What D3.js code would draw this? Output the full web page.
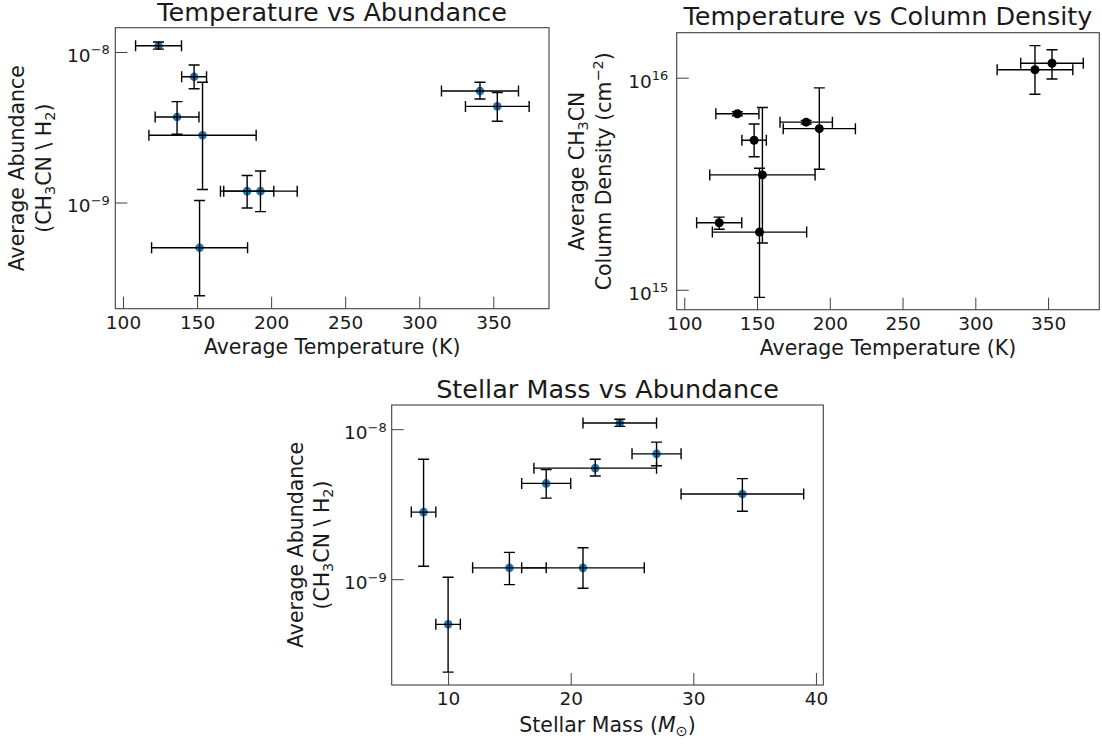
<!DOCTYPE html>
<html>
<head>
<meta charset="utf-8">
<script src="https://cdnjs.cloudflare.com/ajax/libs/d3/7.8.5/d3.min.js"></script>
<style>
  body { margin: 0; background: white; }
  svg { display: block; }
</style>
</head>
<body>
<div id="chart"></div>
<script>
// same source order in every array
const temperature    = [124, 148, 136.5, 153.7, 151.7, 183.8, 192.8, 341, 352.7];
const temperatureErr = [15.5, 8.4, 14.8, 36.2, 32.4, 18, 24.8, 26, 21.5];
const abundance          = [1.10e-8, 6.85e-9, 3.70e-9, 2.80e-9, 5.0e-10, 1.19e-9, 1.19e-9, 5.5e-9, 4.35e-9];
const abundanceErrMinus  = [0.55e-9, 1.15e-9, 0.86e-9, 1.58e-9, 2.6e-10, 0.27e-9, 0.32e-9, 0.63e-9, 0.88e-9];
const abundanceErrPlus   = [0.65e-9, 1.35e-9, 0.98e-9, 3.5e-9, 5.3e-10, 0.32e-9, 0.43e-9, 0.8e-9, 1.03e-9];
const columnDensity         = [2.07e15, 5.07e15, 6.76e15, 3.48e15, 1.87e15, 6.17e15, 5.75e15, 1.09e16, 1.17e16];
const columnDensityErrMinus = [0.14e15, 0.83e15, 0.15e15, 1.82e15, 0.95e15, 0.12e15, 2.05e15, 2.54e15, 1.84e15];
const columnDensityErrPlus  = [0.13e15, 0.98e15, 0.15e15, 3.76e15, 1.87e15, 0.12e15, 3.2e15, 3.26e15, 1.85e15];
const stellarMass    = [24, 27, 34, 8, 10, 15, 21, 22, 18];
const stellarMassErr = [3, 2, 5, 1, 1, 3, 5, 5, 2];

const tempTicks = [100, 150, 200, 250, 300, 350];
const massTicks = [10, 20, 30, 40];
const abundanceTicks = [1e-9, 1e-8];
const densityTicks = [1e15, 1e16];

const tempRangeTA = [94.8, 387.6];
const tempRangeTC = [94.8, 385.2];
const massRange = [5.4, 40.6];
const abundanceRange = [1.97e-10, 1.45e-8];
const densityRange = [8.05e14, 1.63e16];

var width = 1102, height = 744;
var font = "DejaVu Sans";
var textColor = "#1a1a1a";
var frameColor = "#404040";
var blue = "#1f77b4";
var tickLen = 12, capHalf = 5.5;

let svg = d3.select("#chart").append("svg")
    .attr("width", width).attr("height", height)
    .attr("font-family", font).attr("fill", textColor);

function powerLabel(sel, supSize) {
    sel.each(function(d) {
        let exp = Math.round(Math.log10(d));
        let t = d3.select(this).text(null);
        t.append("tspan").text("10");
        t.append("tspan").attr("dy", -7.5).attr("font-size", supSize)
            .text(String(exp).replace("-", "\u2212"));
    });
}

function drawPanel(p) {
    let x = d3.scaleLinear().domain(p.xDomain).range([p.left, p.right]);
    let y = d3.scaleLog().domain(p.yDomain).range([p.bottom, p.top]);
    let g = svg.append("g");
    let idx = p.xs.map((d, i) => i);

    g.selectAll("circle").data(idx).enter().append("circle")
        .attr("cx", i => x(p.xs[i]))
        .attr("cy", i => y(p.ys[i]))
        .attr("r", p.r)
        .attr("fill", p.color);

    // error bars with caps, drawn over the markers
    g.selectAll("path.err").data(idx).enter().append("path")
        .attr("class", "err")
        .attr("fill", "none")
        .attr("stroke", "black")
        .attr("stroke-width", 1.4)
        .attr("d", function(i) {
            let xc = x(p.xs[i]), yc = y(p.ys[i]);
            let x0 = x(p.xs[i] - p.xErr[i]), x1 = x(p.xs[i] + p.xErr[i]);
            let y0 = y(p.ys[i] - p.yMinus[i]), y1 = y(p.ys[i] + p.yPlus[i]);
            let path = d3.path();
            path.moveTo(x0, yc); path.lineTo(x1, yc);
            path.moveTo(x0, yc - capHalf); path.lineTo(x0, yc + capHalf);
            path.moveTo(x1, yc - capHalf); path.lineTo(x1, yc + capHalf);
            path.moveTo(xc, y0); path.lineTo(xc, y1);
            path.moveTo(xc - capHalf, y0); path.lineTo(xc + capHalf, y0);
            path.moveTo(xc - capHalf, y1); path.lineTo(xc + capHalf, y1);
            return path.toString();
        });

    let xAxis = g.append("g")
        .attr("transform", "translate(0," + p.bottom + ")")
        .call(d3.axisBottom(x).tickValues(p.xTicks).tickFormat(d3.format("d"))
            .tickSizeInner(-tickLen).tickSizeOuter(0));
    xAxis.select(".domain").remove();
    xAxis.attr("font-family", font).attr("font-size", 18.5);
    xAxis.selectAll(".tick line").attr("stroke", frameColor);
    xAxis.selectAll("text").attr("y", 20).attr("dy", 0).attr("fill", textColor);

    let yAxis = g.append("g")
        .attr("transform", "translate(" + p.left + ",0)")
        .call(d3.axisLeft(y).tickValues(p.yTicks).tickSizeInner(-tickLen).tickSizeOuter(0));
    yAxis.select(".domain").remove();
    yAxis.attr("font-family", font).attr("font-size", 18.5);
    yAxis.selectAll(".tick line").attr("stroke", frameColor);
    yAxis.selectAll("text").attr("x", -p.yPad).attr("y", 9.4).attr("dy", 0)
        .attr("fill", textColor).call(powerLabel, 13);

    g.append("rect")
        .attr("x", p.left).attr("y", p.top)
        .attr("width", p.right - p.left).attr("height", p.bottom - p.top)
        .attr("fill", "none").attr("stroke", frameColor).attr("stroke-width", 1.1);

    let cx = (p.left + p.right) / 2, cy = (p.top + p.bottom) / 2;
    g.append("text")
        .attr("x", cx).attr("y", p.titleY)
        .attr("text-anchor", "middle").attr("font-size", 25.5)
        .text(p.title);

    let xl = g.append("text")
        .attr("x", cx).attr("y", p.bottom + p.xLabelOff)
        .attr("text-anchor", "middle").attr("font-size", 20.5);
    p.xLabel(xl);

    p.yLabels.forEach(function(fill, k) {
        let t = g.append("text")
            .attr("transform", "translate(" + p.yLabelX[k] + "," + cy + ") rotate(-90)")
            .attr("text-anchor", "middle").attr("font-size", 20.5);
        fill(t);
    });
}

function plain(s) { return t => t.text(s); }
function subscriptLine(t) {
    t.append("tspan").text("(CH");
    t.append("tspan").attr("dy", 4).attr("font-size", 14.5).text("3");
    t.append("tspan").attr("dy", -4).text("CN \\ H");
    t.append("tspan").attr("dy", 4).attr("font-size", 14.5).text("2");
    t.append("tspan").attr("dy", -4).text(")");
}

drawPanel({
    left: 115.3, right: 549, top: 27.7, bottom: 308.7,
    xDomain: tempRangeTA, yDomain: abundanceRange,
    xTicks: tempTicks, yTicks: abundanceTicks,
    xs: temperature, xErr: temperatureErr,
    ys: abundance, yMinus: abundanceErrMinus, yPlus: abundanceErrPlus,
    color: blue, r: 4.3, yPad: 5.5,
    title: "Temperature vs Abundance", titleY: 21,
    xLabel: plain("Average Temperature (K)"), xLabelOff: 45.3,
    yLabels: [plain("Average Abundance"), subscriptLine], yLabelX: [23.5, 50.5]
});

drawPanel({
    left: 676.7, right: 1099.3, top: 32.7, bottom: 309.7,
    xDomain: tempRangeTC, yDomain: densityRange,
    xTicks: tempTicks, yTicks: densityTicks,
    xs: temperature, xErr: temperatureErr,
    ys: columnDensity, yMinus: columnDensityErrMinus, yPlus: columnDensityErrPlus,
    color: "black", r: 4.5, yPad: 8.4,
    title: "Temperature vs Column Density", titleY: 25.3,
    xLabel: plain("Average Temperature (K)"), xLabelOff: 45,
    yLabels: [
        function(t) {
            t.append("tspan").text("Average CH");
            t.append("tspan").attr("dy", 4).attr("font-size", 14.5).text("3");
            t.append("tspan").attr("dy", -4).text("CN");
        },
        function(t) {
            t.append("tspan").text("Column Density (cm");
            t.append("tspan").attr("dy", -8).attr("font-size", 14.5).text("\u22122");
            t.append("tspan").attr("dy", 8).text(")");
        }
    ],
    yLabelX: [583.5, 611]
});

drawPanel({
    left: 391.7, right: 823.3, top: 405, bottom: 685,
    xDomain: massRange, yDomain: abundanceRange,
    xTicks: massTicks, yTicks: abundanceTicks,
    xs: stellarMass, xErr: stellarMassErr,
    ys: abundance, yMinus: abundanceErrMinus, yPlus: abundanceErrPlus,
    color: blue, r: 4.3, yPad: 5,
    title: "Stellar Mass vs Abundance", titleY: 397.5,
    xLabel: function(t) {
        t.append("tspan").text("Stellar Mass (");
        t.append("tspan").attr("font-style", "italic").text("M");
        t.append("tspan").attr("dy", 4).attr("font-size", 14.5).text("\u2299");
        t.append("tspan").attr("dy", -4).text(")");
    },
    xLabelOff: 47.3,
    yLabels: [plain("Average Abundance"), subscriptLine], yLabelX: [302.5, 328.5]
});
</script>
</body>
</html>
